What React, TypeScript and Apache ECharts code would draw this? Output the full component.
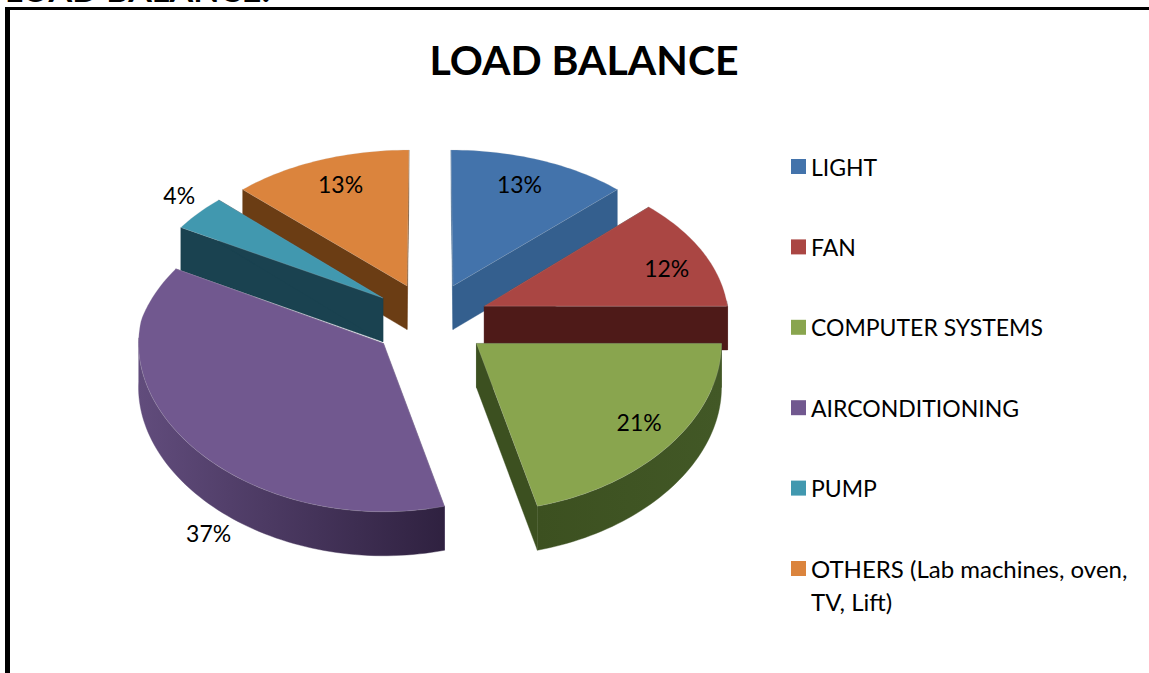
import React, { useEffect, useRef } from "react";
import * as echarts from "echarts";

const categories = ["LIGHT", "FAN", "COMPUTER SYSTEMS", "AIRCONDITIONING", "PUMP", "OTHERS (Lab machines, oven, TV, Lift)"];
const shares = [13, 12, 21, 37, 4, 13];
const shareLabels = ["13%", "12%", "21%", "37%", "4%", "13%"];
const topColors = ["#4373AB", "#AA4643", "#89A54E", "#71588F", "#4198AF", "#DB843D"];
const wallLeft = ["#345F8E", "#4E1A18", "#3C5020", "#614C7C", "#1A4250", "#6B3D14"];
const wallRight = ["#2F5A88", "#4E1A18", "#425826", "#2F2140", "#1A4250", "#6B3D14"];
const paintOrder = [5, 0, 4, 1, 3, 2];
// label position, in pie-radius units, relative to each slice's apex
const labelU = [0.3, 0.77, 0.664, -0.714, -0.905, -0.3];
const labelV = [0.73, 0.25, -0.48, -1.12, 0.72, 0.73];

const CX = 430, CY = 320, RX = 245, DEPTH = 44, EXPLODE = 0.24;
const total = shares.reduce((a, b) => a + b, 0);
const rad = (d: number) => (d * Math.PI) / 180;

function project(u: number, v: number, d = 0): number[] {
  const pf = v > 0 ? 1 - 0.08 * v : 1;
  const x = CX + RX * u * pf;
  const y = CY - (158 * v - (v > 0 ? 15.3 : 8) * v * v) + d * (v > 0 ? 1 - 0.04 * v : 1);
  return [x, y];
}

function makeRender(i: number) {
  return () => {
    const before = shares.slice(0, i).reduce((a, b) => a + b, 0);
    const a0 = (before / total) * 360;
    const a1 = ((before + shares[i]) / total) * 360;
    const mid = rad((a0 + a1) / 2);
    const au = EXPLODE * Math.sin(mid);
    const av = EXPLODE * Math.cos(mid);
    const pt = (deg: number, d = 0) => project(au + Math.sin(rad(deg)), av + Math.cos(rad(deg)), d);
    const arc = (from: number, to: number, d = 0) => {
      const n = Math.max(2, Math.ceil((to - from) / 1.5));
      const out: number[][] = [];
      for (let k = 0; k <= n; k++) out.push(pt(from + ((to - from) * k) / n, d));
      return out;
    };
    const apex = project(au, av);
    const apexLow = project(au, av, DEPTH);
    const children: any[] = [];
    const poly = (points: number[][], fill: any, stroke?: string) => ({
      type: "polygon",
      shape: { points },
      style: { fill, stroke: stroke || fill, lineWidth: stroke ? 0.7 : 0.4 },
    });
    for (const edge of [a0, a1]) {
      children.push(poly([apex, pt(edge), pt(edge, DEPTH), apexLow], wallLeft[i]));
    }
    const w0 = Math.max(a0, 88);
    const w1 = Math.min(a1, 272);
    if (w1 > w0) {
      const up = arc(w0, w1);
      const down = arc(w0, w1, DEPTH).reverse();
      const grad = new echarts.graphic.LinearGradient(1, 0, 0, 0, [
        { offset: 0, color: wallRight[i] },
        { offset: 1, color: wallLeft[i] },
      ]);
      children.push(poly(up.concat(down), grad));
    }
    children.push(poly([apex].concat(arc(a0, a1)), topColors[i], "rgba(200,200,200,0.3)"));
    const lp = project(au + labelU[i], av + labelV[i]);
    children.push({
      type: "text",
      x: lp[0],
      y: lp[1],
      style: {
        text: shareLabels[i],
        fill: "#000",
        fontFamily: "Lato",
        fontSize: 23,
        align: "center",
        verticalAlign: "middle",
      },
    });
    return { type: "group", children };
  };
}

export default function App() {
  const ref = useRef<HTMLDivElement>(null);
  useEffect(() => {
    document.body.style.margin = "0";
    const chart = echarts.init(ref.current!, null, { renderer: "svg" });
    const legendBase = {
      orient: "vertical",
      left: 786,
      itemWidth: 15,
      itemHeight: 15,
      icon: "rect",
      selectedMode: false,
    };
    chart.setOption({
      animation: false,
      backgroundColor: "#fff",
      title: {
        text: "LOAD BALANCE",
        left: 579,
        top: 34,
        textAlign: "center",
        textStyle: { fontFamily: "Lato", fontWeight: "bold", fontSize: 41, color: "#000" },
      },
      legend: [
        {
          ...legendBase,
          top: 145,
          itemGap: 47.4,
          data: categories.slice(0, 5),
          textStyle: { fontFamily: "Lato", fontSize: 23, color: "#000", lineHeight: 33 },
        },
        {
          ...legendBase,
          top: 514,
          data: categories.slice(5),
          formatter: (name: string) => "\n" + name.replace(", TV", ",\nTV"),
          textStyle: { fontFamily: "Lato", fontSize: 24, color: "#000", lineHeight: 33 },
        },
      ],
      graphic: [
        { type: "rect", shape: { x: 5, y: 7, width: 5, height: 666 }, style: { fill: "#000" } },
        { type: "rect", shape: { x: 5, y: 7, width: 1144, height: 3 }, style: { fill: "#000" } },
        {
          type: "text",
          x: 5,
          y: 5,
          style: { text: "LOAD BALANCE:", fill: "#000", fontFamily: "Lato", fontWeight: "bold", fontSize: 34, align: "left", verticalAlign: "bottom" },
        },
      ],
      series: paintOrder.map((i) => ({
        type: "custom",
        name: categories[i],
        coordinateSystem: "none",
        silent: true,
        itemStyle: { color: topColors[i] },
        data: [[shares[i]]],
        renderItem: makeRender(i),
      })),
    });
    return () => chart.dispose();
  }, []);
  return <div ref={ref} style={{ position: "absolute", left: 0, top: 0, width: 1149, height: 673 }} />;
}
